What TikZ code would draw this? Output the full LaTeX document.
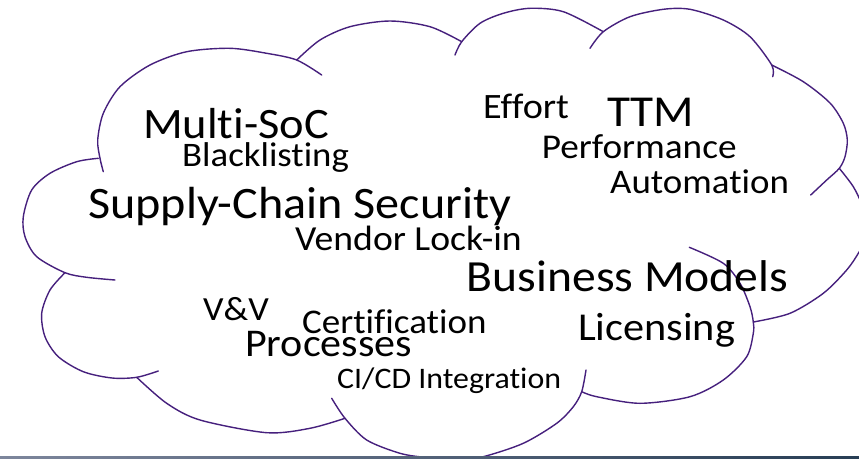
\documentclass[tikz,border=0pt]{standalone}
\usepackage{graphicx}
\usepackage{fontspec}
\setmainfont{Carlito}[Ligatures=NoCommon]
\definecolor{cloudc}{RGB}{70,32,125}
\definecolor{barleft}{RGB}{125,134,156}
\definecolor{barright}{RGB}{40,62,85}
\newcommand{\fsz}[1]{\fontsize{#1}{#1}\selectfont}
\newcommand{\wideword}[1]{\scalebox{1.07}[1]{#1}}
\begin{document}
\begin{tikzpicture}[x=1pt,y=-1pt,
  cloudline/.style={draw=cloudc,line width=1.4pt,line cap=round},
  word/.style={anchor=base west,inner sep=0pt,text=black}]
\useasboundingbox (0,0) rectangle (859,458);
\begin{scope}
\clip (0,0) rectangle (859,456.5);
% lobe A (top left)
\draw[cloudline] plot[smooth] coordinates {(103.3,171.7) (100,158.3) (97.7,140) (103.3,113.3) (120,86.7) (150,65) (186.7,51.7) (230,48.3) (266.7,53.3) (296.7,60) (321.7,75)};
% lobe B
\draw[cloudline] plot[smooth] coordinates {(296.7,60) (320,40) (350,26.7) (390,21) (430,26.7) (461.7,41.7)};
% lobe C
\draw[cloudline] plot[smooth] coordinates {(455,55) (461.7,41.7) (480,23.3) (503.3,13.3) (530,8.3) (563.3,11.7) (603.3,31.7)};
% lobe D
\draw[cloudline] plot[smooth] coordinates {(590,48.3) (603.3,31.7) (630,16.7) (663.3,9.3) (690,9.3) (723.3,20) (750,36.7) (771.7,65) (772.7,76.7)};
% lobe E
\draw[cloudline] plot[smooth] coordinates {(771.7,65) (803.3,81.7) (830,103) (843.3,123.3) (847.3,140) (845,156.7) (839.3,168.3) (826.7,180) (810.7,195)};
% lobe F (right, partly outside)
\draw[cloudline] plot[smooth] coordinates {(839.3,168.3) (853.3,186.7) (862,205) (867,225) (865,240) (858.3,253.3) (846.7,270) (823.3,293.3) (790,313.3) (753.3,322)};
% lobe G
\draw[cloudline] plot[smooth] coordinates {(689.3,247.3) (723.3,263.3) (740,283.3) (750,306.7) (753.3,322) (753.3,333.3) (746.7,356.7) (723.3,380) (690,396.7) (640,403.3) (596.7,396.7) (581.7,391.7)};
% lobe H (bottom, partly outside)
\draw[cloudline] plot[smooth] coordinates {(586,370) (581.7,391.7) (573.3,406.7) (556.7,423.3) (523.3,443.3) (483.3,456.7) (455,461) (426.7,457.7) (400,453.3) (366.7,440) (345,418.3) (331.7,398.3)};
% lobe I
\draw[cloudline] plot[smooth] coordinates {(345,418.3) (310,428.3) (266.7,432.7) (200,420) (166.7,403.3) (136.7,377.3)};
% lobe J
\draw[cloudline] plot[smooth] coordinates {(158.3,371) (136.7,377.3) (112,378) (83.3,371.7) (58.3,356.7) (45,336.7) (41.7,313.3) (50,290) (65,272.7)};
% lobe L (left)
\draw[cloudline] plot[smooth] coordinates {(98.3,158.3) (76.7,161.7) (50,173.3) (31.7,190) (23.3,216.7) (25,236.7) (36.7,256.7) (65,272.7) (86.7,277.3) (115,280)};
\end{scope}
\shade[left color=barleft,right color=barright] (0,456.5) rectangle (859,458);
% words
\node[word,font=\fsz{43.4}] (multisoc) at (143,138) {\wideword{Multi-SoC}};
\node[word,font=\fsz{34.4}] (blacklisting) at (182,166.7) {\wideword{Blacklisting}};
\node[word,font=\fsz{45}] (supply) at (88,218.3) {\wideword{Supply-Chain Security}};
\node[word,font=\fsz{35.2}] (vendor) at (295,250.5) {\wideword{Vendor Lock-in}};
\node[word,font=\fsz{35.7}] (effort) at (483,118.3) {\wideword{Effort}};
\node[word,font=\fsz{44.2}] (ttm) at (607,126.7) {\wideword{TTM}};
\node[word,font=\fsz{34.8}] (performance) at (541.7,158.3) {\wideword{Performance}};
\node[word,font=\fsz{34.5}] (automation) at (610,193) {\wideword{Automation}};
\node[word,font=\fsz{44.5}] (business) at (466.7,291.7) {\wideword{Business Models}};
\node[word,font=\fsz{39.5}] (licensing) at (578,340) {\wideword{Licensing}};
\node[word,font=\fsz{33.8}] (vv) at (203,320) {\wideword{V\&V}};
\node[word,font=\fsz{34.6}] (certification) at (302,333) {\wideword{Certification}};
\node[word,font=\fsz{39.3}] (processes) at (245,356) {\wideword{Processes}};
\node[word,font=\fsz{29.8}] (cicd) at (337,388.3) {\wideword{CI/CD Integration}};
\end{tikzpicture}
\end{document}
